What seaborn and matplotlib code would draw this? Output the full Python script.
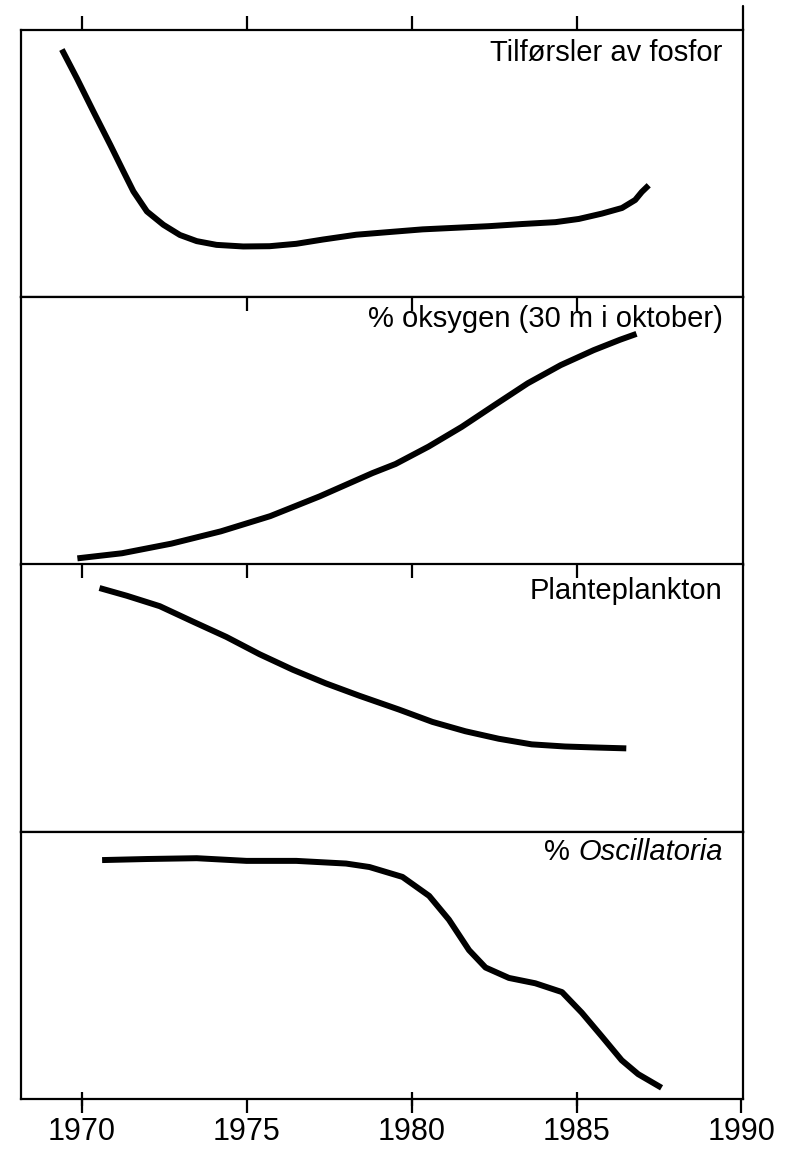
import matplotlib
matplotlib.use("Agg")
import matplotlib.pyplot as plt
import seaborn as sns
import pandas as pd

# ---- data (y in relative units 0..1 of each panel) ----
fosfor_year = [1969.39, 1969.85, 1970.35, 1970.86, 1971.26, 1971.56, 1971.97, 1972.47,
               1972.97, 1973.48, 1974.08, 1974.89, 1975.69, 1976.50, 1977.31, 1978.32,
               1979.32, 1980.33, 1981.34, 1982.35, 1983.35, 1984.36, 1985.07, 1985.77,
               1986.38, 1986.78, 1986.98, 1987.19]
fosfor_val = [0.927, 0.818, 0.694, 0.570, 0.470, 0.396, 0.321, 0.271, 0.233, 0.210, 0.196,
              0.190, 0.191, 0.200, 0.216, 0.234, 0.244, 0.254, 0.260, 0.266, 0.274, 0.281,
              0.293, 0.313, 0.334, 0.364, 0.394, 0.419]

oksygen_year = [1969.86, 1971.21, 1972.71, 1974.21, 1975.71, 1977.21, 1978.81, 1979.51,
                1980.51, 1981.52, 1982.52, 1983.52, 1984.52, 1985.52, 1986.32, 1986.82]
oksygen_val = [0.023, 0.042, 0.078, 0.124, 0.181, 0.255, 0.342, 0.376, 0.441, 0.515,
               0.597, 0.678, 0.746, 0.802, 0.841, 0.863]

plankton_year = [1970.53, 1971.36, 1972.36, 1973.37, 1974.38, 1975.39, 1976.40, 1977.40,
                 1978.41, 1979.62, 1980.63, 1981.63, 1982.64, 1983.64, 1984.65, 1985.65,
                 1986.51]
plankton_val = [0.912, 0.883, 0.844, 0.786, 0.729, 0.664, 0.606, 0.555, 0.509, 0.457,
                0.411, 0.376, 0.348, 0.327, 0.319, 0.315, 0.312]

oscill_year = [1970.61, 1971.97, 1973.48, 1974.99, 1976.50, 1978.01, 1978.72, 1979.72,
               1980.53, 1981.13, 1981.74, 1982.24, 1982.95, 1983.75, 1984.56, 1985.16,
               1985.77, 1986.37, 1986.87, 1987.58]
oscill_val = [0.894, 0.898, 0.901, 0.891, 0.891, 0.881, 0.868, 0.831, 0.760, 0.671, 0.557,
              0.492, 0.453, 0.433, 0.400, 0.323, 0.234, 0.145, 0.093, 0.042]

titles = ["Tilførsler av fosfor", "% oksygen (30 m i oktober)", "Planteplankton",
          "% Oscillatoria"]
top_ticks = [[1970, 1975, 1980, 1985], [1975, 1980, 1985], [1970, 1975, 1980, 1985],
             [1970, 1980, 1985]]
bottom_ticks = [1970, 1975, 1980, 1985, 1990]

series = [(fosfor_year, fosfor_val), (oksygen_year, oksygen_val),
          (plankton_year, plankton_val), (oscill_year, oscill_val)]

# ---- style ----
sns.set_style("white")
FONT = ["Liberation Sans Narrow", "Liberation Sans", "DejaVu Sans"]
plt.rcParams["font.family"] = FONT
plt.rcParams["text.color"] = "black"
plt.rcParams["xtick.color"] = "black"
plt.rcParams["xtick.labelcolor"] = "black"

fig = plt.figure(figsize=(7.9, 11.51), dpi=100)
left, right = 21 / 790, 743 / 790
top, bottom = 1 - 30 / 1151, 1 - 1099 / 1151
h = (top - bottom) / 4

axes = []
for i in range(4):
    ax = fig.add_axes([left, top - (i + 1) * h, right - left, h])
    axes.append(ax)

for i, ax in enumerate(axes):
    yr, val = series[i]
    df = pd.DataFrame({"year": yr, "value": val})
    sns.lineplot(data=df, x="year", y="value", ax=ax, color="black", linewidth=4.3,
                 sort=False, estimator=None)
    line = ax.lines[-1]
    line.set_solid_capstyle("butt")
    line.set_solid_joinstyle("round")
    ax.set_xlim(1968.15, 1990.05)
    ax.set_ylim(0, 1)
    ax.set_xlabel("")
    ax.set_ylabel("")
    ax.set_yticks([])
    for s in ax.spines.values():
        s.set_visible(True)
        s.set_color("black")
        s.set_linewidth(1.6)
    ax.xaxis.set_ticks_position("top")
    ax.set_xticks(top_ticks[i])
    ax.tick_params(axis="x", which="major", top=True, bottom=False, labeltop=False,
                   labelbottom=False,
                   direction=("out" if i == 0 else ("inout" if i == 3 else "in")),
                   length=10, width=1.6, color="black")

# bottom axis ticks and labels
axb = axes[3].twiny()
axb.set_xlim(axes[3].get_xlim())
axb.xaxis.set_ticks_position("bottom")
axb.xaxis.set_label_position("bottom")
axb.set_xticks(bottom_ticks)
axb.set_xticklabels([str(t) for t in bottom_ticks])
axb.tick_params(axis="x", bottom=True, top=False, labelbottom=True, labeltop=False,
                direction="out", length=10, width=1.6, pad=3, labelsize=22,
                color="black", labelcolor="black")
for s in axb.spines.values():
    s.set_visible(False)
for lab in axb.get_xticklabels():
    lab.set_family(FONT)

# right border extending above the top panel
axes[0].axvline(1990.05, ymin=1.0, ymax=1.09, color="black", linewidth=1.6, clip_on=False)

# panel titles
tsize = 21
axes[0].text(0.972, 0.965, titles[0], transform=axes[0].transAxes, ha="right", va="top",
             fontsize=tsize, family=FONT, color="black")
axes[1].text(0.972, 0.97, titles[1], transform=axes[1].transAxes, ha="right", va="top",
             fontsize=tsize, family=FONT, color="black")
axes[2].text(0.972, 0.955, titles[2], transform=axes[2].transAxes, ha="right", va="top",
             fontsize=tsize, family=FONT, color="black")
pct, word = titles[3].split(" ", 1)
t = axes[3].text(0.972, 0.975, word, transform=axes[3].transAxes, ha="right", va="top",
                 fontsize=tsize, style="italic", family=FONT, color="black")
axes[3].annotate(pct + " ", xy=(0, 0), xycoords=t, ha="right", va="bottom",
                 fontsize=tsize, family=FONT, color="black")

fig.savefig("out.png", dpi=100, facecolor="white")
